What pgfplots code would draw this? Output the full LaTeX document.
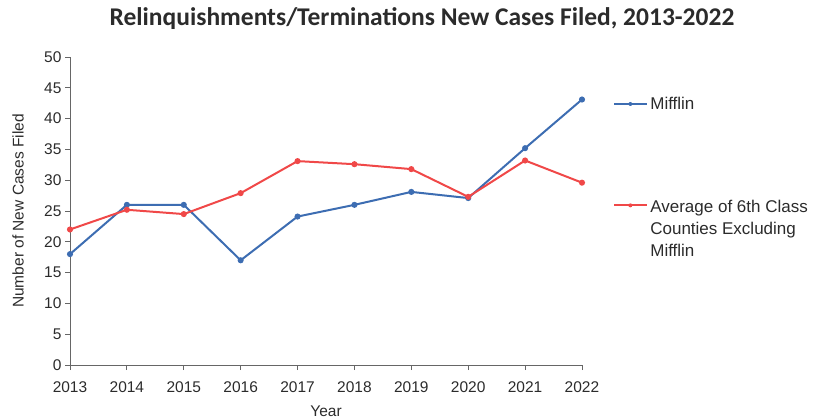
\documentclass[border=0pt]{standalone}
\usepackage{fontspec}
\setmainfont{Liberation Sans}
\newfontfamily\titlefont{Carlito}
\usepackage{pgfplots}
\pgfplotsset{compat=1.18}
\definecolor{mblue}{HTML}{3D6DB2}
\definecolor{mred}{HTML}{F04848}
\definecolor{txt}{HTML}{2B2B2B}
\begin{document}
\begin{tikzpicture}[x=1pt,y=1pt]
\begin{axis}[
  at={(0,0)}, anchor=south west,
  scale only axis, width=512pt, height=308pt,
  xmin=2013, xmax=2022, ymin=0, ymax=50,
  xtick={2013,2014,...,2022}, ytick={0,5,...,50},
  axis x line*=bottom, axis y line*=left,
  axis line style={draw=gray!80!black, line width=0.8pt},
  tick style={draw=gray!80!black, line width=0.8pt},
  tick align=outside, major tick length=5pt,
  /pgf/number format/assume math mode=true,
  /pgf/number format/1000 sep={},
  ticklabel style={font=\fontsize{15.5}{18}\selectfont, text=txt},
  xticklabel style={yshift=-8pt},
  xlabel={Year}, ylabel={Number of New Cases Filed},
  label style={font=\fontsize{15.5}{18}\selectfont, text=txt},
  xlabel style={at={(axis description cs:0.5,-0.149)}, anchor=center},
  ylabel style={at={(axis description cs:-0.1016,0.5)}, anchor=center},
  title={\titlefont\bfseries Relinquishments/Terminations New Cases Filed, 2013-2022},
  title style={font=\fontsize{25.5}{30}\selectfont, text=txt, at={(axis description cs:0.6875,1)}, anchor=center, yshift=32pt},
  clip=false,
  legend style={at={(axis description cs:1.055,0.8835)}, anchor=north west, draw=none, fill=none,
    font=\fontsize{17}{22}\selectfont, text=txt, row sep=82pt},
  legend cell align=left,
  legend image code/.code={\draw[#1] (0pt,0pt) -- (16pt,0pt) -- (33pt,0pt); \fill[#1, draw=none] (16pt,0pt) circle (2pt);},
]
\addplot[mblue, line width=2pt, mark=*, mark size=2pt] coordinates {
(2013,18) (2014,26) (2015,26) (2016,17) (2017,24.1) (2018,26) (2019,28.1) (2020,27.1) (2021,35.2) (2022,43.1)};
\addlegendentry{Mifflin}
\addplot[mred, line width=2pt, mark=*, mark size=2pt] coordinates {
(2013,22) (2014,25.2) (2015,24.5) (2016,27.9) (2017,33.1) (2018,32.6) (2019,31.8) (2020,27.3) (2021,33.2) (2022,29.6)};
\addlegendentry{\begin{tabular}[t]{@{}l@{}}Average of 6th Class\\Counties Excluding\\Mifflin\end{tabular}}
\end{axis}
\path[use as bounding box] (-70,-51) rectangle (752,365);
\end{tikzpicture}
\end{document}
